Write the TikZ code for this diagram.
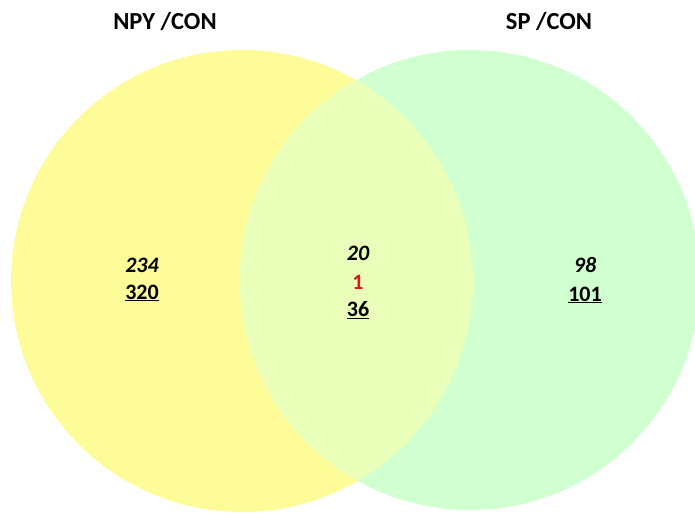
\documentclass[tikz,border=0pt]{standalone}
\usepackage{fontspec}
\setmainfont{Carlito}
\definecolor{npyyellow}{RGB}{253,252,153}
\definecolor{spgreen}{RGB}{208,255,208}
\definecolor{bothmix}{RGB}{234,255,186}
\definecolor{onlyred}{RGB}{226,24,24}
\tikzset{
  setlabel/.style={font=\fontsize{24.5}{28}\selectfont\bfseries, inner sep=0pt},
  countnum/.style={font=\fontsize{22}{26}\selectfont\bfseries, inner sep=0pt}
}
\begin{document}
\begin{tikzpicture}[x=1pt, y=-1pt]
  \useasboundingbox (0,0) rectangle (695,514);
  % Sets
  \fill[npyyellow] (242,281) circle [radius=231pt];
  \fill[spgreen] (470,280) circle [radius=230pt];
  \begin{scope}
    \clip (242,281) circle [radius=231pt];
    \fill[bothmix] (470,280) circle [radius=230pt];
  \end{scope}
  
  % Set titles
  \node[setlabel] (tNPY) at (165,21) {NPY /CON};
  \node[setlabel] (tSP) at (549,21) {SP /CON};
  
  % NPY only
  \node[countnum] (aNPY) at (142,265) {\itshape 234};
  \node[countnum] (bNPY) at (142,293) {\underline{320}};
  
  % Both
  \node[countnum] (aBoth) at (358,253) {\itshape 20};
  \node[countnum, text=onlyred] (cBoth) at (358,282) {1};
  \node[countnum] (bBoth) at (358,310) {\underline{36}};
  
  % SP only
  \node[countnum] (aSP) at (585,265) {\itshape 98};
  \node[countnum] (bSP) at (585,295) {\underline{101}};
\end{tikzpicture}
\end{document}
